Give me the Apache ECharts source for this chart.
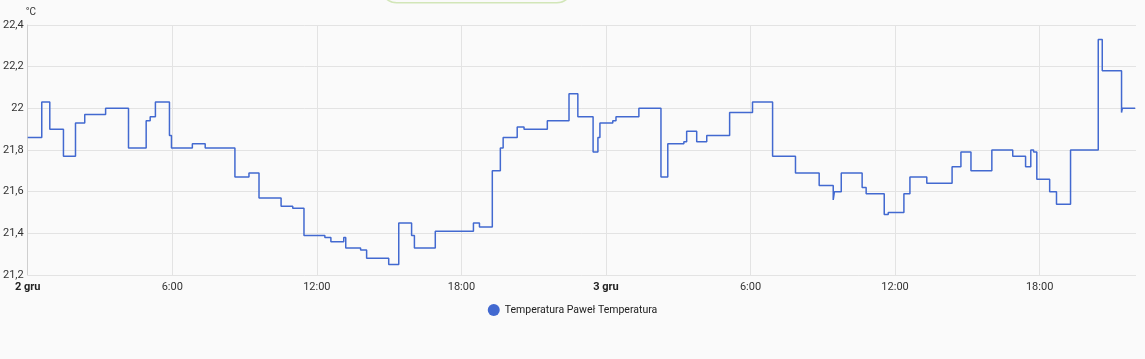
<!DOCTYPE html>
<html>
<head>
<meta charset="utf-8">
<script src="https://cdn.jsdelivr.net/npm/echarts@6/dist/echarts.min.js"></script>
<style>
html,body{margin:0;padding:0;background:#fafafa;}
#c{width:1145px;height:359px;}
</style>
</head>
<body>
<div id="c"></div>
<script>
// Change times (local) and values (°C) of the step series
const times = [
 "2023-12-02T00:00","2023-12-02T00:35","2023-12-02T00:55","2023-12-02T01:29","2023-12-02T01:59",
 "2023-12-02T02:22","2023-12-02T03:14","2023-12-02T04:11","2023-12-02T04:55","2023-12-02T05:05",
 "2023-12-02T05:18","2023-12-02T05:53","2023-12-02T05:58","2023-12-02T06:50","2023-12-02T07:22",
 "2023-12-02T08:36","2023-12-02T09:11","2023-12-02T09:36","2023-12-02T10:31","2023-12-02T11:00",
 "2023-12-02T11:28","2023-12-02T12:20","2023-12-02T12:35","2023-12-02T13:07","2023-12-02T13:12",
 "2023-12-02T13:49","2023-12-02T14:04","2023-12-02T14:59","2023-12-02T15:24","2023-12-02T15:56",
 "2023-12-02T16:03","2023-12-02T16:55","2023-12-02T18:30","2023-12-02T18:45","2023-12-02T19:17",
 "2023-12-02T19:37","2023-12-02T19:44","2023-12-02T20:19","2023-12-02T20:36","2023-12-02T21:34",
 "2023-12-02T22:28","2023-12-02T22:50","2023-12-02T23:28","2023-12-02T23:40","2023-12-02T23:45",
 "2023-12-03T00:17","2023-12-03T00:25","2023-12-03T01:22","2023-12-03T02:17","2023-12-03T02:34",
 "2023-12-03T03:14","2023-12-03T03:21","2023-12-03T03:46","2023-12-03T04:11","2023-12-03T05:08",
 "2023-12-03T06:05","2023-12-03T06:55","2023-12-03T07:52","2023-12-03T08:51","2023-12-03T09:26",
 "2023-12-03T09:29","2023-12-03T09:46","2023-12-03T10:38","2023-12-03T10:48","2023-12-03T11:33",
 "2023-12-03T11:43","2023-12-03T12:22","2023-12-03T12:37","2023-12-03T13:19","2023-12-03T14:22",
 "2023-12-03T14:44","2023-12-03T15:09","2023-12-03T16:01","2023-12-03T16:53","2023-12-03T17:25",
 "2023-12-03T17:38","2023-12-03T17:45","2023-12-03T17:53","2023-12-03T18:25","2023-12-03T18:42",
 "2023-12-03T19:17","2023-12-03T20:26","2023-12-03T20:36","2023-12-03T21:24","2023-12-03T21:26",
 "2023-12-03T21:58"
];
const values = [
 21.86,22.03,21.90,21.77,21.93,
 21.97,22.00,21.81,21.94,21.96,
 22.03,21.87,21.81,21.83,21.81,
 21.67,21.69,21.57,21.53,21.52,
 21.39,21.38,21.36,21.38,21.33,
 21.32,21.28,21.25,21.45,21.39,
 21.33,21.41,21.45,21.43,21.70,
 21.81,21.86,21.91,21.90,21.94,
 22.07,21.96,21.79,21.86,21.93,
 21.94,21.96,22.00,21.67,21.83,
 21.84,21.89,21.84,21.87,21.98,
 22.03,21.77,21.69,21.63,21.56,
 21.60,21.69,21.62,21.59,21.49,
 21.50,21.59,21.67,21.64,21.72,
 21.79,21.70,21.80,21.77,21.72,
 21.80,21.79,21.66,21.60,21.54,
 21.80,22.33,22.18,21.98,22.00,
 22.00
];
const seriesName = "Temperatura Paweł Temperatura";
const unit = "°C";
const startTime = "2023-12-02T00:00";
const endTime = "2023-12-03T22:00";
const dayNames = {0: "2 gru", 24: "3 gru"};

const t0 = Date.parse(startTime);
const toH = s => (Date.parse(s) - t0) / 3600000;
const data = times.map((t, i) => [toH(t), values[i]]);

const chart = echarts.init(document.getElementById('c'), null, {renderer: 'canvas'});
chart.setOption({
  backgroundColor: '#fafafa',
  animation: false,
  textStyle: {fontFamily: 'Roboto, sans-serif'},
  graphic: [{
    type: 'rect', left: 380, top: -30,
    shape: {width: 192, height: 32, r: 16},
    style: {fill: 'transparent', stroke: '#d2e6b8', lineWidth: 1.5}
  }],
  grid: {left: 25, right: 9, top: 25, bottom: 84, containLabel: false},
  legend: {
    top: 299, left: 'center',
    icon: 'circle', itemWidth: 12, itemHeight: 12, itemGap: 10,
    textStyle: {fontSize: 10.5, color: '#212121', fontFamily: 'Roboto, sans-serif'},
    data: [seriesName]
  },
  xAxis: {
    type: 'value', min: 0, max: toH(endTime), interval: 6,
    axisLine: {show: false},
    axisTick: {show: false},
    splitLine: {show: true, showMaxLine: false, lineStyle: {color: '#e3e3e3', width: 1}},
    axisLabel: {
      showMaxLabel: false,
      margin: 7, fontSize: 11, color: '#333',
      formatter: v => {
        if (dayNames[v] !== undefined) return '{b|' + dayNames[v] + '}';
        return (v % 24) + ':00';
      },
      rich: {b: {fontWeight: 'bold', fontSize: 11, color: '#222'}}
    }
  },
  yAxis: {
    type: 'value', min: 21.2, max: 22.4, interval: 0.2,
    name: unit, nameLocation: 'end', nameGap: 8,
    nameTextStyle: {fontSize: 10, color: '#333', align: 'left', padding: [0, 0, 0, -2]},
    axisLine: {show: true, lineStyle: {color: '#cfcfcf', width: 1}},
    axisTick: {show: false},
    splitLine: {show: true, lineStyle: {color: '#e3e3e3', width: 1}},
    axisLabel: {
      margin: 4, fontSize: 11, color: '#333',
      formatter: v => String(parseFloat(v.toFixed(1))).replace('.', ',')
    }
  },
  series: [{
    name: seriesName, type: 'line', step: 'end',
    data: data, showSymbol: false, symbol: 'circle',
    lineStyle: {color: '#4269d0', width: 1.5},
    itemStyle: {color: '#4269d0'}
  }]
});
</script>
</body>
</html>
